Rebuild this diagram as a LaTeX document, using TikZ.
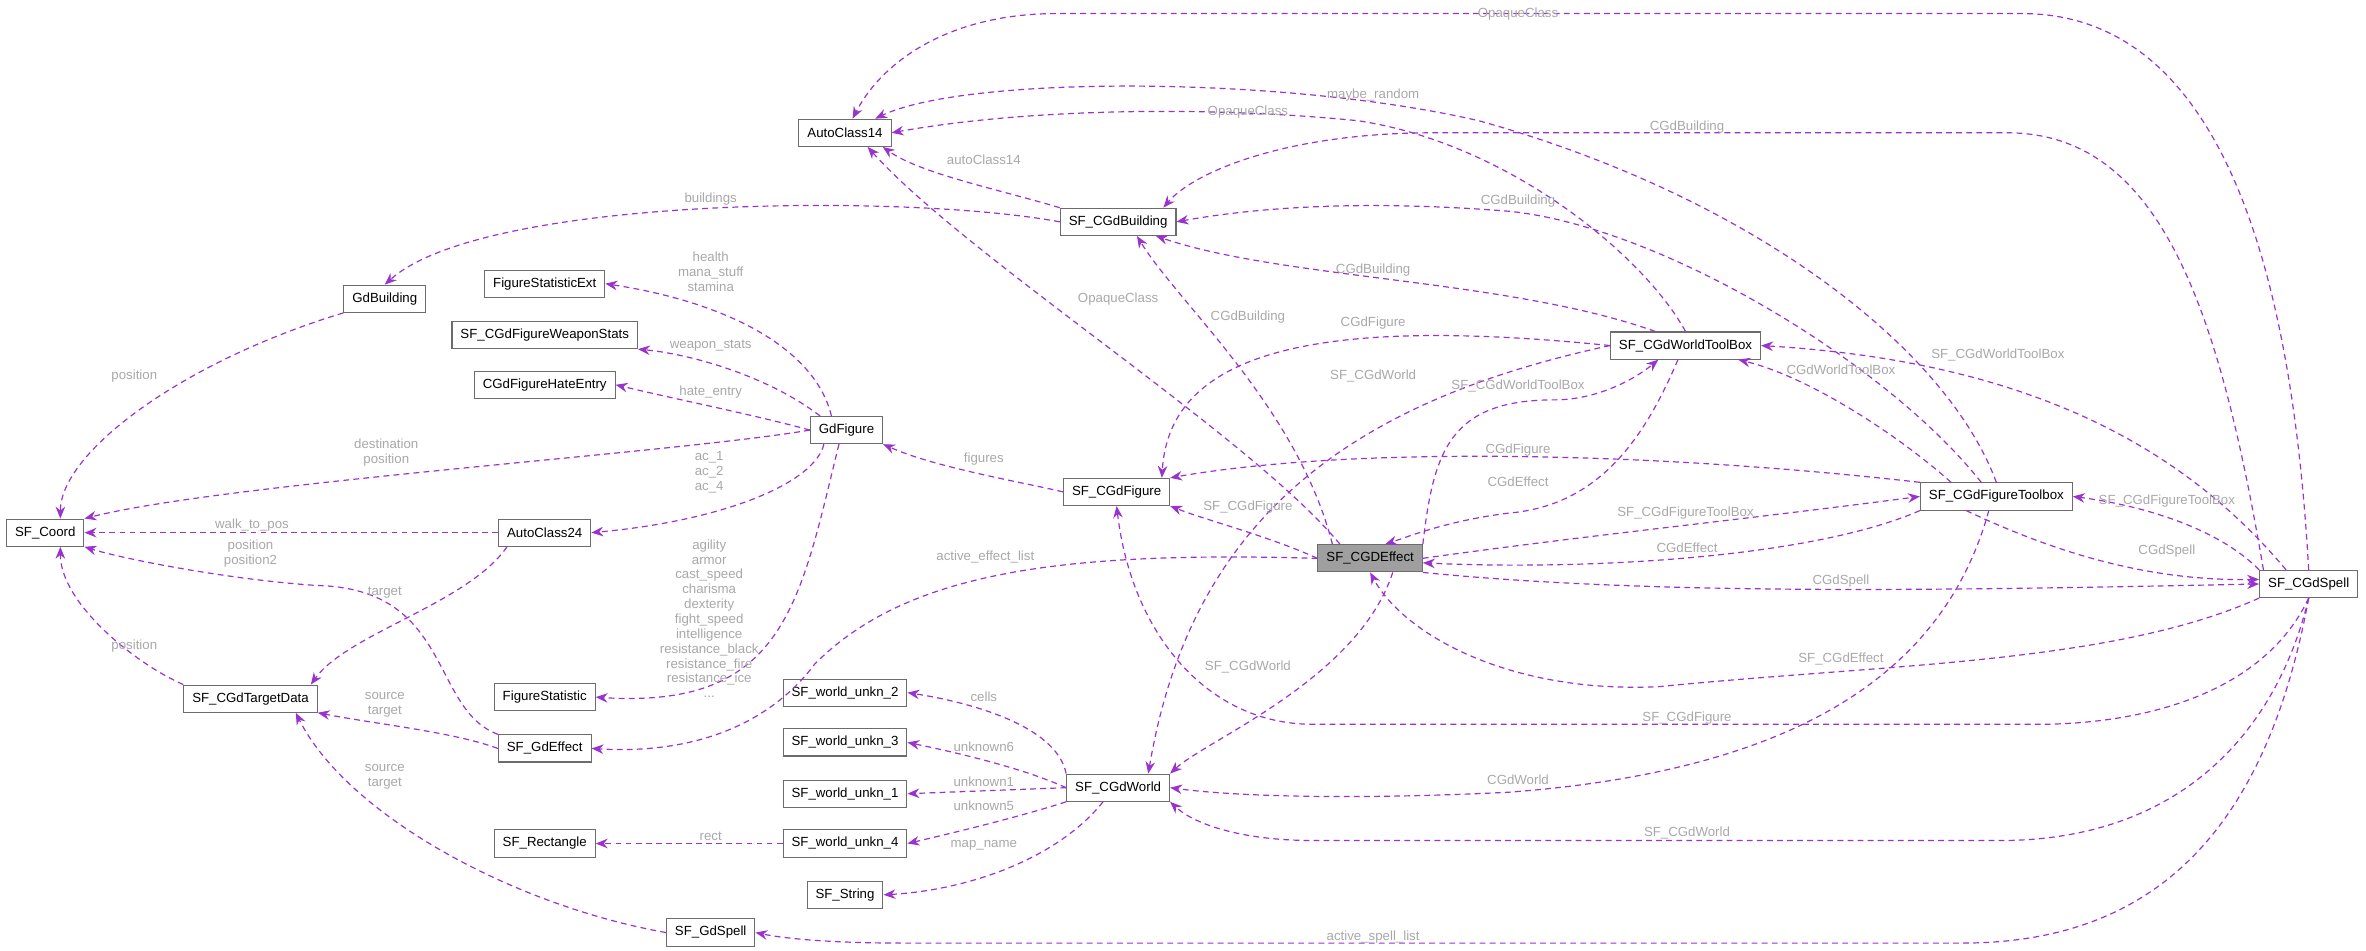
\documentclass[tikz,border=0pt]{standalone}
\usepackage{fontspec}
\setmainfont{Liberation Sans}
\usetikzlibrary{arrows.meta}
\definecolor{edgecol}{HTML}{9A32CD}
\definecolor{labelcol}{HTML}{A8A8A8}
\tikzset{
  cls/.style={draw=gray!85!black, fill=white, font=\fontsize{5}{6}\selectfont, minimum height=0.36cm, inner xsep=3.2pt, inner ysep=1pt},
  curcls/.style={cls, fill=gray!75},
  rel/.style={draw=edgecol, dashed, dash pattern=on 2.2pt off 1.6pt, line width=0.45pt, -{Stealth[length=4.5pt,width=3.6pt]}},
  lbl/.style={text=labelcol, font=\fontsize{5}{5.6}\selectfont, align=center, inner sep=0pt}
}
\begin{document}
\begin{tikzpicture}[x=0.02cm, y=-0.02cm]
    \useasboundingbox (0,0) rectangle (1568,630);

    % Classes
    \node[cls] (ac14) at (560,88) {AutoClass14};
    \node[cls] (bld) at (741,147) {SF\_CGdBuilding};
    \node[cls] (gdbld) at (255,198) {GdBuilding};
    \node[cls] (fsext) at (361,188) {FigureStatisticExt};
    \node[cls] (wstats) at (361,222) {SF\_CGdFigureWeaponStats};
    \node[cls] (hate) at (361,255) {CGdFigureHateEntry};
    \node[cls] (gdfig) at (561,285) {GdFigure};
    \node[cls] (cfig) at (740,326) {SF\_CGdFigure};
    \node[cls] (coord) at (30,353) {SF\_Coord};
    \node[cls] (ac24) at (361,353) {AutoClass24};
    \node[curcls] (eff) at (908,370) {SF\_CGDEffect};
    \node[cls] (wtb) at (1117,229) {SF\_CGdWorldToolBox};
    \node[cls] (ftb) at (1323,329) {SF\_CGdFigureToolbox};
    \node[cls] (spell) at (1530,387) {SF\_CGdSpell};
    \node[cls] (tdata) at (166,463) {SF\_CGdTargetData};
    \node[cls] (fstat) at (361,462) {FigureStatistic};
    \node[cls] (gdeff) at (361,496) {SF\_GdEffect};
    \node[cls] (wu2) at (560,459) {SF\_world\_unkn\_2};
    \node[cls] (wu3) at (560,492) {SF\_world\_unkn\_3};
    \node[cls] (wu1) at (560,526) {SF\_world\_unkn\_1};
    \node[cls] (world) at (741,522) {SF\_CGdWorld};
    \node[cls] (rect) at (361,559) {SF\_Rectangle};
    \node[cls] (wu4) at (560,559) {SF\_world\_unkn\_4};
    \node[cls] (str) at (560,593) {SF\_String};
    \node[cls] (gdspell) at (471,618) {SF\_GdSpell};

    % Links into AutoClass14
    \draw[rel] (spell.north) .. controls (1520,200) and (1480,9) .. (1340,9) -- (700,9) .. controls (630,9) and (585,40) .. ([xshift=0.1cm]ac14.north);
    \draw[rel] (ftb.north) .. controls (1290,230) and (1160,130) .. (980,80) .. controls (850,50) and (640,50) .. ([xshift=0.4cm]ac14.north);
    \draw[rel] (wtb.north) .. controls (1090,170) and (1000,95) .. (900,80) .. controls (800,70) and (680,72) .. (ac14.east);
    \draw[rel] (bld.north west) .. controls (660,125) and (610,115) .. ([xshift=0.5cm]ac14.south);
    \draw[rel] ([xshift=-0.4cm]eff.north) .. controls (830,290) and (640,170) .. ([xshift=0.3cm]ac14.south);

    % Links into SF_CGdBuilding
    \draw[rel] ([xshift=-0.6cm]spell.north) .. controls (1470,200) and (1430,88) .. (1330,88) -- (950,88) .. controls (850,88) and (790,115) .. ([xshift=0.6cm]bld.north);
    \draw[rel] ([xshift=-0.2cm]ftb.north) .. controls (1250,240) and (1100,150) .. (1000,140) .. controls (900,132) and (830,138) .. (bld.east);
    \draw[rel] ([xshift=-0.4cm]wtb.north) .. controls (1000,185) and (850,185) .. ([xshift=0.5cm]bld.south);
    \draw[rel] ([xshift=-0.5cm]eff.north) .. controls (860,270) and (780,200) .. ([xshift=0.25cm]bld.south);

    % GdFigure and its members
    \draw[rel] (bld.west) .. controls (600,128) and (320,130) .. (gdbld.north);
    \draw[rel] (gdbld.south west) .. controls (120,240) and (40,300) .. ([xshift=0.2cm]coord.north);
    \draw[rel] ([xshift=-0.2cm]gdfig.north) .. controls (540,230) and (480,200) .. (fsext.east);
    \draw[rel] ([xshift=-0.35cm]gdfig.north) .. controls (510,250) and (460,235) .. (wstats.south east);
    \draw[rel] (gdfig.west) .. controls (500,275) and (450,265) .. (hate.east);
    \draw[rel] (gdfig.west) .. controls (450,300) and (150,320) .. (coord.north east);
    \draw[rel] ([xshift=-0.3cm]gdfig.south) .. controls (540,320) and (480,345) .. (ac24.east);
    \draw[rel] ([xshift=-0.1cm]gdfig.south) .. controls (530,400) and (520,470) .. (fstat.east);
    \draw[rel] (ac24.west) -- (coord.east);
    \draw[rel] ([xshift=-0.5cm]ac24.south) .. controls (310,400) and (230,420) .. ([xshift=0.8cm]tdata.north);
    \draw[rel] (gdeff.north west) .. controls (285,470) and (300,390) .. (210,388) .. controls (150,384) and (80,370) .. (coord.south east);
    \draw[rel] (tdata.north west) .. controls (90,440) and (40,400) .. ([xshift=0.2cm]coord.south);
    \draw[rel] (gdeff.west) .. controls (300,485) and (250,480) .. (tdata.south east);
    \draw[rel] (gdspell.west) .. controls (340,600) and (230,540) .. ([xshift=0.6cm]tdata.south);
    \draw[rel] (eff.west) .. controls (700,365) and (600,380) .. (540,440) .. controls (510,480) and (460,500) .. (gdeff.east);

    % SF_CGdWorld and its members
    \draw[rel] (world.north west) .. controls (700,480) and (640,465) .. (wu2.east);
    \draw[rel] (world.west) .. controls (680,510) and (640,500) .. (wu3.east);
    \draw[rel] (world.west) -- (wu1.east);
    \draw[rel] (world.south west) .. controls (680,540) and (640,550) .. (wu4.east);
    \draw[rel] ([xshift=-0.2cm]world.south) .. controls (700,570) and (640,590) .. (str.east);
    \draw[rel] (wu4.west) -- (rect.east);

    % Tool boxes
    \draw[rel] (wtb.west) .. controls (900,265) and (790,340) .. ([xshift=0.4cm]world.north);
    \draw[rel] (wtb.west) .. controls (880,210) and (775,230) .. ([xshift=0.6cm]cfig.north);
    \draw[rel] (eff.north east) .. controls (950,300) and (960,265) .. (1030,265) .. controls (1060,265) and (1085,250) .. ([xshift=-0.36cm]wtb.south);
    \draw[rel] ([xshift=-0.1cm]wtb.south) .. controls (1090,290) and (1060,335) .. (1000,340) .. controls (960,345) and (935,355) .. ([xshift=0.2cm]eff.north);
    \draw[rel] ([xshift=-0.6cm]ftb.north) .. controls (1260,290) and (1200,250) .. ([xshift=0.7cm]wtb.south);
    \draw[rel] ([xshift=-0.3cm]spell.north) .. controls (1450,300) and (1350,240) .. (wtb.east);
    \draw[rel] (ftb.north west) .. controls (1100,300) and (900,295) .. (cfig.north east);
    \draw[rel] (eff.west) .. controls (840,355) and (800,345) .. (cfig.south east);
    \draw[rel] (cfig.west) .. controls (680,320) and (620,310) .. (gdfig.south east);
    \draw[rel] (eff.east) .. controls (1050,355) and (1150,345) .. (ftb.west);
    \draw[rel] (ftb.south west) .. controls (1200,370) and (1050,378) .. ([yshift=-0.06cm]eff.east);
    \draw[rel] (spell.north west) .. controls (1470,350) and (1420,335) .. (ftb.east);
    \draw[rel] ([xshift=-0.4cm]ftb.south) .. controls (1370,370) and (1430,385) .. ([yshift=0.06cm]spell.west);
    \draw[rel] (eff.south east) .. controls (1100,395) and (1300,391) .. (spell.west);
    \draw[rel] (spell.south west) .. controls (1400,440) and (1250,440) .. (1100,455) .. controls (1000,460) and (930,420) .. (eff.south);
    \draw[rel] ([xshift=0.3cm]eff.south) .. controls (900,450) and (800,490) .. (world.north east);
    \draw[rel] (spell.south) .. controls (1500,460) and (1420,480) .. (1350,480) -- (870,480) .. controls (800,480) and (750,420) .. (cfig.south);
    \draw[rel] ([xshift=-0.1cm]ftb.south) .. controls (1290,440) and (1200,510) .. (1000,525) .. controls (900,530) and (820,528) .. (world.east);
    \draw[rel] (spell.south) .. controls (1510,480) and (1450,555) .. (1330,557) -- (870,557) .. controls (820,557) and (790,545) .. (world.south east);
    \draw[rel] (spell.south) .. controls (1500,560) and (1420,625) .. (1300,625) -- (600,625) .. controls (550,625) and (520,622) .. (gdspell.east);

    % Labels
    \node[lbl] (l1) at (1006,9) {OpaqueClass};
    \node[lbl] (l2) at (910,63) {maybe\_random};
    \node[lbl] (l3) at (827,74) {OpaqueClass};
    \node[lbl] (l4) at (1118,84) {CGdBuilding};
    \node[lbl] (l5) at (652,106) {autoClass14};
    \node[lbl] (l6) at (1006,133) {CGdBuilding};
    \node[lbl] (l7) at (471,132) {buildings};
    \node[lbl] (l8) at (910,179) {CGdBuilding};
    \node[lbl] (l9) at (471,180) {health\\mana\_stuff\\stamina};
    \node[lbl] (l10) at (741,198) {OpaqueClass};
    \node[lbl] (l11) at (827,210) {CGdBuilding};
    \node[lbl] (l12) at (910,214) {CGdFigure};
    \node[lbl] (l13) at (471,229) {weapon\_stats};
    \node[lbl] (l14) at (1324,235) {SF\_CGdWorldToolBox};
    \node[lbl] (l15) at (1220,245) {CGdWorldToolBox};
    \node[lbl] (l16) at (89,249) {position};
    \node[lbl] (l17) at (910,249) {SF\_CGdWorld};
    \node[lbl] (l18) at (1006,256) {SF\_CGdWorldToolBox};
    \node[lbl] (l19) at (471,260) {hate\_entry};
    \node[lbl] (l20) at (1006,298) {CGdFigure};
    \node[lbl] (l21) at (256,300) {destination\\position};
    \node[lbl] (l22) at (652,304) {figures};
    \node[lbl] (l23) at (470,313) {ac\_1\\ac\_2\\ac\_4};
    \node[lbl] (l24) at (1006,319) {CGdEffect};
    \node[lbl] (l25) at (1436,332) {SF\_CGdFigureToolBox};
    \node[lbl] (l26) at (827,336) {SF\_CGdFigure};
    \node[lbl] (l27) at (1117,340) {SF\_CGdFigureToolBox};
    \node[lbl] (l28) at (167,348) {walk\_to\_pos};
    \node[lbl] (l29) at (1118,363) {CGdEffect};
    \node[lbl] (l30) at (1436,365) {CGdSpell};
    \node[lbl] (l31) at (166,367) {position\\position2};
    \node[lbl] (l32) at (653,369) {active\_effect\_list};
    \node[lbl] (l33) at (1220,385) {CGdSpell};
    \node[lbl] (l34) at (255,393) {target};
    \node[lbl] (l35) at (470,410) {agility\\armor\\cast\_speed\\charisma\\dexterity\\fight\_speed\\intelligence\\resistance\_black\\resistance\_fire\\resistance\_ice\\...};
    \node[lbl] (l36) at (89,428) {position};
    \node[lbl] (l37) at (1220,437) {SF\_CGdEffect};
    \node[lbl] (l38) at (827,442) {SF\_CGdWorld};
    \node[lbl] (l39) at (652,462) {cells};
    \node[lbl] (l40) at (255,467) {source\\target};
    \node[lbl] (l41) at (1118,476) {SF\_CGdFigure};
    \node[lbl] (l42) at (652,495) {unknown6};
    \node[lbl] (l43) at (255,515) {source\\target};
    \node[lbl] (l44) at (1006,517) {CGdWorld};
    \node[lbl] (l45) at (652,518) {unknown1};
    \node[lbl] (l46) at (652,534) {unknown5};
    \node[lbl] (l47) at (1118,552) {SF\_CGdWorld};
    \node[lbl] (l48) at (471,554) {rect};
    \node[lbl] (l49) at (652,560) {map\_name};
    \node[lbl] (l50) at (910,621) {active\_spell\_list};
\end{tikzpicture}
\end{document}
